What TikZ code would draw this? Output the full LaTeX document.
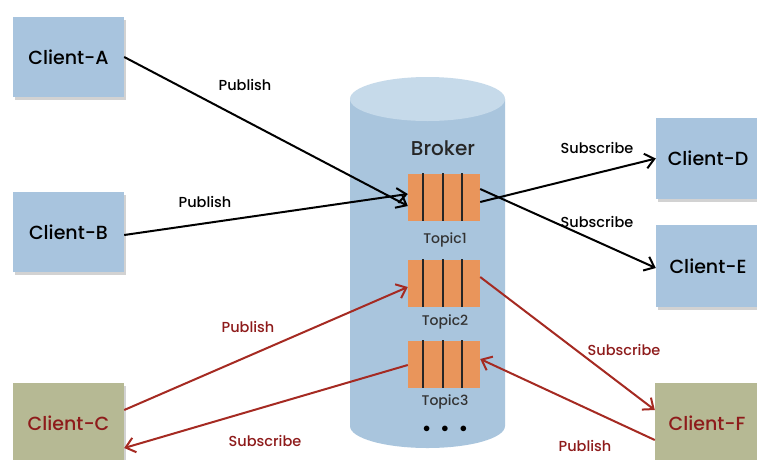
\documentclass[tikz,border=0pt]{standalone}
\usepackage{fontspec}
\setmainfont{Poppins Medium}
\usetikzlibrary{arrows.meta}
\definecolor{boxblue}{HTML}{A8C4DE}
\definecolor{cylblue}{HTML}{A9C5DD}
\definecolor{cyltop}{HTML}{C6DAEA}
\definecolor{khaki}{HTML}{B6B994}
\definecolor{darkred}{HTML}{8E1B1B}
\definecolor{arrred}{HTML}{A52A22}
\definecolor{topicor}{HTML}{E9955B}
\tikzset{
  client/.style={minimum width=111pt, minimum height=80pt, inner sep=0pt, font=\fontsize{19}{20}\selectfont},
  blueclient/.style={client, fill=boxblue, text=black},
  greenclient/.style={client, fill=khaki, text=darkred},
  topicbox/.style={fill=topicor, minimum width=72pt, minimum height=47pt, inner sep=0pt},
  topiclabel/.style={font=\fontsize{14}{15}\selectfont, text=black!80},
  lbl/.style={font=\fontsize{14.5}{15}\selectfont},
  blk/.style={draw=black, line width=2pt, -{Straight Barb[length=9pt,width=15pt,line width=2pt]}},
  red/.style={draw=arrred, line width=2pt, -{Straight Barb[length=9pt,width=15pt,line width=2pt]}},
  shadowbox/.style={fill=black!35, opacity=0.5},
}
\begin{document}
\begin{tikzpicture}[x=1pt,y=-1pt]
\useasboundingbox (0,0) rectangle (757,459);
\fill[white] (0,0) rectangle (757,459);
% shadows
\fill[shadowbox] (15,20) rectangle (126,100);
\fill[shadowbox] (15,195) rectangle (126,275);
\fill[shadowbox] (15,386) rectangle (126,462);
\fill[shadowbox] (658,121) rectangle (760,202);
\fill[shadowbox] (658,228) rectangle (760,310);
\fill[shadowbox] (657,386) rectangle (760,462);
% clients
\node[blueclient] (A) at (68.5,57) {Client-A};
\node[blueclient] (B) at (68.5,232) {Client-B};
\node[greenclient, minimum height=80pt] (C) at (68.5,423) {Client-C};
\node[blueclient, minimum width=104pt, minimum height=81pt] (D) at (708,158.5) {Client-D};
\node[blueclient, minimum width=104pt, minimum height=82pt] (E) at (708,266) {Client-E};
\node[greenclient, minimum width=104pt] (F) at (707,423) {Client-F};
% cylinder
\fill[cylblue] (350,99) -- (350,426) arc[start angle=180, end angle=0, x radius=77.5, y radius=22] -- (505,99) -- cycle;
\fill[cyltop] (427.5,99) ellipse[x radius=77.5, y radius=22];
\node[font=\fontsize{20}{21}\selectfont, text=black!85] (broker) at (443,148) {Broker};
% topics
\foreach \n/\y in {1/197,2/283,3/364}{
  \node[topicbox] (T\n) at (444,\y) {};
  \foreach \dx in {-21,-1,18}{
    \draw[line width=2.4pt, black!85] ([xshift=\dx pt]T\n.north) -- ([xshift=\dx pt]T\n.south);
  }
}
\node[topiclabel] (L1) at (445,240) {Topic1};
\node[topiclabel] (L2) at (445,322) {Topic2};
\node[topiclabel] (L3) at (445,402) {Topic3};
\node[font=\fontsize{14}{15}\selectfont] (dots) at (445,429) {$\bullet\;\;\bullet\;\;\bullet$};
% black arrows
\draw[blk] (A.east |- 0,57) -- ([yshift=-9pt]T1.west);
\draw[blk] (B.east |- 0,235) -- ([yshift=3pt]T1.west);
\draw[blk] ([yshift=-5pt]T1.east) -- (D.west);
\draw[blk] ([yshift=8pt]T1.east) -- (E.west |- 0,268);
\node[lbl] (p1) at (245,85) {Publish};
\node[lbl] (p2) at (205,202) {Publish};
\node[lbl] (s1) at (597,148) {Subscribe};
\node[lbl] (s2) at (597,222) {Subscribe};
% red arrows
\draw[red] (C.east |- 0,410) -- ([yshift=-4pt]T2.west);
\draw[red] ([yshift=-1pt]T3.west) -- (C.east |- 0,448);
\draw[red] ([yshift=6pt]T2.east) -- (F.west |- 0,410);
\draw[red] (F.west |- 0,440) -- ([yshift=5pt]T3.east);
\node[lbl, text=darkred] (p3) at (248,327) {Publish};
\node[lbl, text=darkred] (s3) at (265,441) {Subscribe};
\node[lbl, text=darkred] (s4) at (624,350) {Subscribe};
\node[lbl, text=darkred] (p4) at (585,446) {Publish};
\end{tikzpicture}
\end{document}
